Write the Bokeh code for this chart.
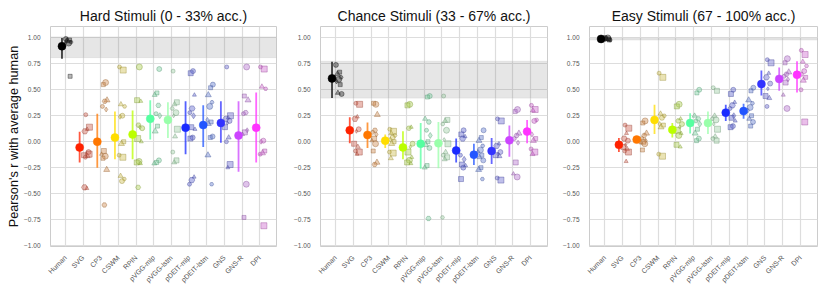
import math
from bokeh.plotting import figure
from bokeh.layouts import row, column
from bokeh.models import FixedTicker, BoxAnnotation, ColumnDataSource, Range1d, CustomJSTickFormatter, Spacer
from bokeh.embed import file_html
from bokeh.resources import INLINE

models = ["Human", "SVG", "CP3", "CSWM", "RPIN", "pVGG-mlp", "pVGG-lstm",
          "pDEIT-mlp", "pDEIT-lstm", "GNS", "GNS-R", "DPI"]
colors = ["#000000", "#ff2200", "#ff7700", "#ffdd00", "#bbff00", "#55ffa0", "#99ffaa",
          "#1a2bff", "#2255ff", "#3333ff", "#cc44ff", "#ff33ff"]
titles = ["Hard Stimuli (0 - 33% acc.)", "Chance Stimuli (33 - 67% acc.)",
          "Easy Stimuli (67 - 100% acc.)"]
yticks = [-1.0, -0.75, -0.5, -0.25, 0.0, 0.25, 0.5, 0.75, 1.0]

# human agreement band per panel
band_lo = [0.81, 0.42, 0.98]
band_hi = [1.01, 0.775, 1.0]

# model means and error bars
hard_mean = [0.92, -0.055, 0.0, 0.04, 0.07, 0.22, 0.21, 0.135, 0.16, 0.18, 0.06, 0.135]
hard_lo = [0.80, -0.20, -0.25, -0.17, -0.17, 0.02, 0.035, -0.12, -0.05, -0.01, -0.29, -0.20]
hard_hi = [1.0, 0.095, 0.27, 0.29, 0.30, 0.40, 0.38, 0.39, 0.35, 0.39, 0.39, 0.475]

chance_mean = [0.61, 0.11, 0.065, 0.01, -0.055, -0.02, -0.015, -0.085, -0.125, -0.09, 0.013, 0.097]
chance_lo = [0.42, -0.015, -0.06, -0.06, -0.17, -0.26, -0.255, -0.20, -0.225, -0.215, -0.145, -0.015]
chance_hi = [0.77, 0.235, 0.185, 0.07, 0.10, 0.18, 0.19, 0.03, -0.02, 0.035, 0.155, 0.21]

easy_mean = [0.99, -0.03, 0.02, 0.21, 0.115, 0.18, 0.18, 0.28, 0.295, 0.555, 0.605, 0.645]
easy_lo = [0.98, -0.10, -0.01, 0.075, 0.04, 0.08, 0.075, 0.20, 0.22, 0.445, 0.49, 0.475]
easy_hi = [1.0, 0.035, 0.05, 0.355, 0.18, 0.275, 0.29, 0.355, 0.365, 0.685, 0.715, 0.775]

# per-scenario correlations (scatter), one list per model
hard_points = [
    [0.99, 0.98, 0.97, 0.96, 0.95, 0.97, 0.63],
    [0.26, 0.14, 0.12, 0.10, -0.10, -0.12, -0.13, -0.14, -0.15, -0.12, -0.45, -0.44],
    [0.57, 0.55, 0.40, 0.39, 0.34, 0.31, -0.09, -0.12, -0.14, -0.16, -0.27, -0.61],
    [0.72, 0.69, 0.36, 0.34, 0.25, 0.24, 0.0, -0.02, -0.13, -0.15, -0.33, -0.36, -0.38],
    [0.72, 0.40, 0.39, 0.16, 0.13, 0.14, 0.03, 0.0, -0.19, -0.20, -0.21, -0.44],
    [0.70, 0.47, 0.45, 0.35, 0.27, 0.25, 0.15, 0.10, -0.18, -0.20, -0.21],
    [0.68, 0.38, 0.36, 0.32, 0.28, 0.25, 0.12, 0.05, -0.10, -0.18, -0.20],
    [0.68, 0.66, 0.45, 0.32, 0.28, 0.25, 0.14, 0.12, 0.04, 0.03, -0.34, -0.37, -0.41],
    [0.55, 0.52, 0.45, 0.38, 0.34, 0.21, 0.19, 0.17, 0.05, 0.04, -0.13, -0.41],
    [0.72, 0.25, 0.23, 0.22, 0.20, 0.18, 0.14, 0.04, 0.0, -0.22, -0.25],
    [0.72, 0.44, 0.40, 0.28, 0.27, 0.11, 0.09, 0.07, -0.41, -0.73],
    [0.72, 0.70, 0.53, 0.51, 0.01, 0.0, -0.09, -0.11, -0.12, -0.81],
]
chance_points = [
    [0.74, 0.67, 0.65, 0.62, 0.60, 0.58, 0.55, 0.47, 0.46],
    [0.37, 0.36, 0.24, 0.22, 0.12, 0.10, -0.02, -0.05, -0.09, -0.10, -0.12],
    [0.36, 0.37, 0.26, 0.11, 0.09, 0.07, 0.03, 0.01, -0.02, -0.09, -0.20, -0.22],
    [0.12, 0.10, 0.08, 0.06, 0.04, 0.02, 0.0, -0.02, -0.10, -0.11, -0.16],
    [0.36, 0.35, 0.14, 0.13, -0.02, -0.05, -0.10, -0.15, -0.18, -0.20, -0.21],
    [0.44, 0.43, 0.22, 0.19, 0.11, 0.06, 0.0, -0.03, -0.06, -0.23, -0.25, -0.74],
    [0.44, 0.21, 0.20, 0.17, 0.11, 0.02, -0.02, -0.10, -0.13, -0.15, -0.17, -0.73],
    [0.11, 0.07, 0.05, 0.03, -0.13, -0.17, -0.22, -0.23, -0.25, -0.36],
    [0.11, 0.04, 0.01, -0.04, -0.08, -0.10, -0.13, -0.15, -0.18, -0.25, -0.27, -0.36],
    [0.22, 0.20, -0.02, -0.04, -0.10, -0.12, -0.13, -0.14, -0.35, -0.37],
    [0.31, 0.29, 0.08, 0.06, 0.03, -0.01, -0.20, -0.31, -0.34],
    [0.35, 0.31, 0.30, 0.21, 0.20, 0.07, 0.03, 0.01, -0.07, -0.10, -0.12],
]
easy_points = [
    [1.0, 0.99, 0.99, 0.98, 1.0, 0.99, 0.98],
    [0.16, 0.13, 0.08, 0.03, 0.01, -0.03, -0.05, -0.07, -0.09, -0.10, -0.19],
    [0.20, 0.18, 0.08, 0.06, 0.03, 0.01, 0.0, -0.01, -0.02, -0.08],
    [0.66, 0.62, 0.27, 0.25, 0.23, 0.17, 0.16, 0.14, -0.12, -0.14],
    [0.36, 0.34, 0.22, 0.20, 0.17, 0.14, 0.11, 0.08, 0.06, -0.03, -0.05],
    [0.50, 0.47, 0.25, 0.22, 0.20, 0.17, 0.12, 0.08, 0.03, 0.01],
    [0.52, 0.49, 0.25, 0.22, 0.21, 0.17, 0.12, 0.05, 0.03, 0.01],
    [0.50, 0.46, 0.38, 0.35, 0.32, 0.25, 0.23, 0.20, 0.15, 0.14],
    [0.52, 0.49, 0.40, 0.37, 0.33, 0.30, 0.25, 0.22, 0.19, 0.15],
    [0.79, 0.76, 0.66, 0.62, 0.56, 0.51, 0.44, 0.42, 0.34],
    [0.80, 0.76, 0.67, 0.65, 0.63, 0.60, 0.57, 0.45, 0.32],
    [0.88, 0.84, 0.77, 0.73, 0.68, 0.65, 0.62, 0.59, 0.50, 0.19],
]

panels = [
    (hard_mean, hard_lo, hard_hi, hard_points),
    (chance_mean, chance_lo, chance_hi, chance_points),
    (easy_mean, easy_lo, easy_hi, easy_points),
]

FONT = "Liberation Sans"
marker_cycle = ["circle", "square", "triangle", "hex", "circle", "diamond", "square", "triangle"]
size_cycle = [5, 4, 6, 4, 6, 5, 4, 5]


def blend(c1, c2, t):
    a = [int(c1[i:i + 2], 16) for i in (1, 3, 5)]
    b = [int(c2[i:i + 2], 16) for i in (1, 3, 5)]
    m = [round(a[k] * (1 - t) + b[k] * t) for k in range(3)]
    return "#%02x%02x%02x" % tuple(m)


# frames at about 50-276, 320-547, 589-817 px
borders = [(50, 2), (42, 2), (40, 4)]
frame_w = [226, 227, 228]
figs = []
for pi, (means, los, his, pts) in enumerate(panels):
    bl, br = borders[pi]
    p = figure(width=bl + frame_w[pi] + br, frame_height=220,
               x_range=Range1d(-0.85, 11.95), y_range=Range1d(-1.01, 1.11),
               output_backend="svg", toolbar_location=None,
               min_border_left=bl, min_border_right=br, min_border_top=0, min_border_bottom=0)
    p.title.text = titles[pi]
    p.title.align = "center"
    p.title.text_font = FONT
    p.title.text_font_size = "14px"
    p.title.text_font_style = "normal"
    p.title.text_color = "#111111"
    p.title.standoff = 6
    p.outline_line_color = "#cccccc"
    p.outline_line_width = 1

    p.xaxis.ticker = FixedTicker(ticks=list(range(len(models))))
    p.xaxis.major_label_overrides = {i: m for i, m in enumerate(models)}
    p.xaxis.major_label_orientation = math.pi / 4
    p.yaxis.ticker = FixedTicker(ticks=yticks)
    p.yaxis.formatter = CustomJSTickFormatter(code="return tick.toFixed(2).replace('-', '\u2212');")
    for ax in (p.xaxis, p.yaxis):
        ax.axis_line_color = None
        ax.major_tick_line_color = None
        ax.minor_tick_line_color = None
        ax.major_label_text_font = FONT
        ax.major_label_text_color = "#555555"
        ax.major_label_standoff = 4
    p.xaxis.major_label_text_font_size = "7px"
    p.yaxis.major_label_text_font_size = "6.5px"
    p.xgrid.grid_line_color = "#dddddd"
    p.ygrid.grid_line_color = "#dddddd"
    p.xgrid.grid_line_width = 1.2
    p.ygrid.grid_line_width = 1.2
    if pi == 0:
        p.yaxis.axis_label = "Pearson's r with average human"
        p.yaxis.axis_label_text_font = FONT
        p.yaxis.axis_label_text_font_size = "12.7px"
        p.yaxis.axis_label_text_font_style = "normal"
        p.yaxis.axis_label_text_color = "#111111"
        p.yaxis.axis_label_standoff = 0

    p.add_layout(BoxAnnotation(bottom=band_lo[pi], top=band_hi[pi], fill_color="#808080",
                               fill_alpha=0.2, line_color="#c8c8c8", line_width=1,
                               level="underlay"))

    # scatter of per-scenario values
    xs, ys, mk, sz, fc, lc = [], [], [], [], [], []
    for mi, vals in enumerate(pts):
        for j, v in enumerate(vals):
            off = 0.02 + 0.34 * ((j * 0.618034 + mi * 0.37) % 1.0)
            xs.append(mi + off)
            ys.append(v)
            mk.append(marker_cycle[j % len(marker_cycle)])
            sz.append(size_cycle[(j + mi) % len(size_cycle)])
            if mi == 0:
                fc.append("#222222" if v > 0.8 or pi == 1 else "#555555")
                lc.append("#111111")
            else:
                fc.append(blend(colors[mi], "#9a9a9a", 0.5))
                lc.append(blend(colors[mi], "#555555", 0.6))
    src = ColumnDataSource(dict(x=xs, y=ys, marker=mk, size=sz, fc=fc, lc=lc))
    p.scatter("x", "y", source=src, marker="marker", size="size", fill_color="fc",
              fill_alpha=0.42, line_color="lc", line_alpha=0.5, line_width=0.8)

    # means with error bars
    mx = [i - 0.2 for i in range(len(models))]
    msrc = ColumnDataSource(dict(x=mx, m=means, lo=los, hi=his, c=colors))
    p.segment(x0="x", y0="lo", x1="x", y1="hi", source=msrc, line_color="c",
              line_width=1.8, line_alpha=0.75)
    p.scatter("x", "m", source=msrc, size=8, fill_color="c", line_color="c", line_width=0.5)
    figs.append(p)

layout = column(Spacer(height=2), row(*figs))
open("out.html", "w").write(file_html(layout, INLINE))
